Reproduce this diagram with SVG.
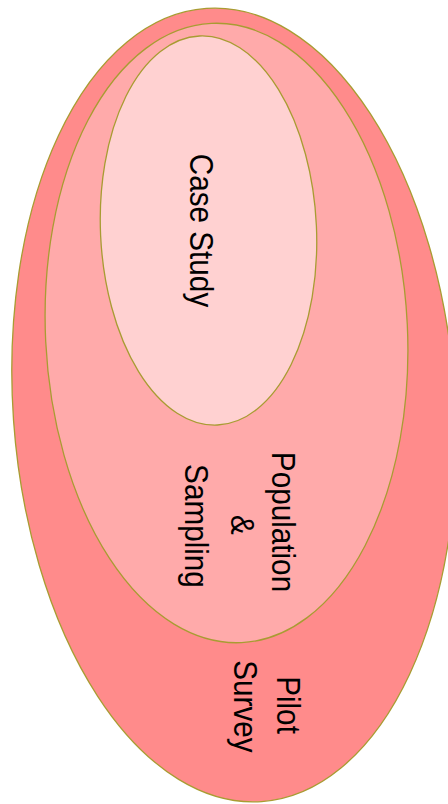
<svg xmlns="http://www.w3.org/2000/svg" width="448" height="804" viewBox="0 0 448 804">
<style>
.e{stroke:#a89c32;stroke-width:1.3}
.t{font-family:"Liberation Sans",Arial,sans-serif;font-size:33px;fill:#000;text-anchor:middle}
</style>
<rect width="448" height="804" fill="#fff"/>
<g id="pilot-survey">
<ellipse class="e" cx="234" cy="405" rx="221" ry="397.5" fill="#ff8b8b" transform="rotate(-4 234 405)"/>
<g class="t">
<text transform="translate(277 705) rotate(90) scale(0.9 1)">Pilot</text>
<text transform="translate(234 706.5) rotate(90) scale(0.9 1)">Survey</text>
</g>
</g>
<g id="population-sampling">
<ellipse class="e" cx="226.5" cy="333" rx="181" ry="310" fill="#ffaaaa" transform="rotate(-2.8 226.5 333)"/>
<g class="t">
<text transform="translate(272 522) rotate(90) scale(0.9 1)">Population</text>
<text transform="translate(231 525) rotate(90) scale(0.9 1)">&amp;</text>
<text transform="translate(185 526) rotate(90) scale(0.9 1)">Sampling</text>
</g>
</g>
<g id="case-study">
<ellipse class="e" cx="208.5" cy="230.5" rx="108" ry="194.7" fill="#ffd1d1" transform="rotate(-2.65 208.5 230.5)"/>
<text class="t" transform="translate(190 230.5) rotate(90) scale(0.9 1)">Case Study</text>
</g>
<g id="connectors"/>
</svg>
